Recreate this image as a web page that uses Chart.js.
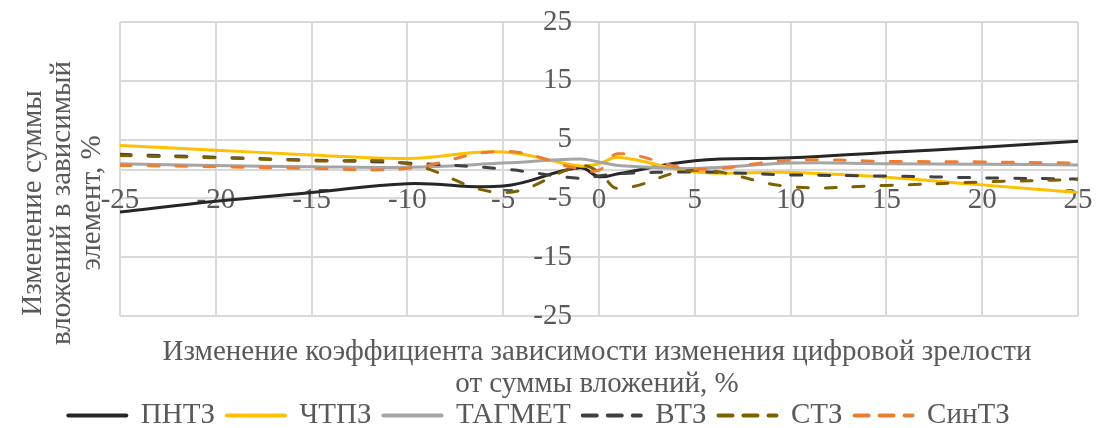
<!DOCTYPE html>
<html lang="ru">
<head>
<meta charset="utf-8">
<title>Изменение суммы вложений в зависимый элемент</title>
<script src="https://cdn.jsdelivr.net/npm/chart.js@4.4.1/dist/chart.umd.min.js"></script>
<style>
  html, body { margin: 0; padding: 0; background: #ffffff; }
  #wrap { width: 1097px; height: 428px; position: relative; }
</style>
</head>
<body>
<div id="wrap"><canvas id="chart" width="1097" height="428"></canvas></div>
<script>
// Change of the dependence coefficient, %
const xValues = [-25, -20, -15, -10, -5, -1, 0, 1, 5, 10, 15, 20, 25];

// Change of the investment amount in the dependent element, % (per plant)
const pntz   = [-7.3, -5.5, -4.0, -2.5, -2.9,  0.2, -1.3, -0.8,  1.4,  1.9,  2.8,  3.7,  4.7];
const chtpz  = [ 4.0,  3.2,  2.4,  1.8,  2.9,  0.5,  0.9,  2.0, -0.5, -0.6, -1.4, -2.7, -4.0];
const tagmet = [ 0.9,  0.6,  0.4,  0.3,  1.0,  1.7,  1.2,  0.6,  0.1,  1.0,  0.9,  0.8,  0.7];
const vtz    = [ 2.5,  2.0,  1.5,  1.0,  0.0, -1.6, -1.2, -0.8, -0.5, -1.0, -1.2, -1.5, -1.7];
const stz    = [ 2.3,  1.9,  1.4,  0.9, -4.0,  0.5, -0.5, -3.3, -0.2, -3.0, -2.8, -2.2, -1.8];
const sintz  = [ 0.6,  0.4,  0.1,  0.1,  3.0,  0.0, -0.2,  2.6,  0.0,  1.5,  1.3,  1.2,  1.0];

const seriesNames = ['ПНТЗ', 'ЧТПЗ', 'ТАГМЕТ', 'ВТЗ', 'СТЗ', 'СинТЗ'];
const seriesValues = [pntz, chtpz, tagmet, vtz, stz, sintz];
const seriesColors = ['#262626', '#FFC000', '#A5A5A5', '#404040', '#7F6000', '#ED7D31'];
const seriesDashed = [false, false, false, true, true, true];

const xTicksMin = -25, xTicksMax = 25, xTickStep = 5;
const yTicksMin = -25, yTicksMax = 25, yTickStep = 10;

const xTitleLines = ['Изменение коэффициента зависимости изменения цифровой зрелости', 'от суммы вложений, %'];
const yTitleLines = ['Изменение суммы', 'вложений в зависимый', 'элемент, %'];

const FONT = '"Liberation Serif", "Times New Roman", serif';
const FONT_SIZE = 29;
const TEXT = '#595959';
const GRID = '#d9d9d9';

const datasets = seriesNames.map((name, i) => ({
  label: name,
  data: xValues.map((x, k) => ({ x: x, y: seriesValues[i][k] })),
  borderColor: seriesColors[i],
  backgroundColor: seriesColors[i],
  borderWidth: 3,
  borderDash: seriesDashed[i] ? [11, 17] : [],
  borderCapStyle: 'round',
  borderJoinStyle: 'round',
  pointRadius: 0,
  pointHoverRadius: 0,
  tension: 0.4,
  fill: false,
  order: seriesNames.length - i
}));

// Axis titles are drawn as plain text beside the plot
const axisTitles = {
  id: 'axisTitles',
  afterDraw(chart) {
    const { ctx, chartArea } = chart;
    ctx.save();
    ctx.font = FONT_SIZE + 'px ' + FONT;
    ctx.fillStyle = TEXT;
    ctx.textAlign = 'center';
    ctx.textBaseline = 'middle';
    const cx = (chartArea.left + chartArea.right) / 2 - 2;
    xTitleLines.forEach((t, i) => ctx.fillText(t, cx, chartArea.bottom + 36 + i * 32));
    ctx.translate(33, 203);
    ctx.rotate(-Math.PI / 2);
    yTitleLines.forEach((t, i) => ctx.fillText(t, 0, i * 29.5));
    ctx.restore();
  }
};

// centred axes take no room from the plot area
function noRoomX(scale) {
  scale.height = 0;
  scale.paddingLeft = 0; scale.paddingRight = 0; scale.paddingTop = 0; scale.paddingBottom = 0;
}
function noRoomY(scale) {
  scale.width = 0;
  scale.paddingLeft = 0; scale.paddingRight = 0; scale.paddingTop = 0; scale.paddingBottom = 0;
}

new Chart(document.getElementById('chart'), {
  type: 'line',
  data: { datasets },
  plugins: [axisTitles],
  options: {
    responsive: false,
    animation: false,
    events: [],
    layout: { padding: { top: 22, right: 19, bottom: 0, left: 0 } },
    plugins: {
      title: { display: false },
      tooltip: { enabled: false },
      legend: {
        position: 'bottom',
        maxHeight: 39,
        labels: {
          usePointStyle: true,
          pointStyle: 'line',
          pointStyleWidth: 58,
          padding: 12,
          color: TEXT,
          font: { family: FONT, size: FONT_SIZE },
          sort: (a, b) => a.datasetIndex - b.datasetIndex,
          generateLabels(chart) {
            const items = Chart.defaults.plugins.legend.labels.generateLabels(chart);
            items.forEach(it => {
              it.lineWidth = 4;
              it.lineCap = 'round';
              it.pointStyle = 'line';
              it.lineDash = seriesDashed[it.datasetIndex] ? [14, 11] : [];
            });
            return items;
          }
        }
      }
    },
    scales: {
      x: {
        type: 'linear',
        position: 'center',
        min: xTicksMin,
        max: xTicksMax,
        afterFit: noRoomX,
        ticks: {
          stepSize: xTickStep,
          padding: 14,
          color: TEXT,
          font: { family: FONT, size: FONT_SIZE },
          maxRotation: 0,
          autoSkip: false
        },
        grid: { color: GRID, lineWidth: 2, drawTicks: false },
        border: { display: true, color: GRID, width: 2 }
      },
      y: {
        type: 'linear',
        position: 'center',
        min: yTicksMin,
        max: yTicksMax,
        afterFit: noRoomY,
        ticks: {
          stepSize: yTickStep,
          padding: 27,
          color: TEXT,
          font: { family: FONT, size: FONT_SIZE },
          autoSkip: false
        },
        grid: { color: GRID, lineWidth: 2, drawTicks: false },
        border: { display: false }
      },
      // room for the rotated title on the left
      ySpace: {
        type: 'linear',
        position: 'left',
        display: true,
        afterFit(scale) { scale.width = 120; },
        ticks: { display: false },
        grid: { display: false, drawTicks: false },
        border: { display: false }
      },
      // room for the two-line title under the plot
      xSpace: {
        type: 'linear',
        position: 'bottom',
        display: true,
        afterFit(scale) { scale.height = 73; },
        ticks: { display: false },
        grid: { display: false, drawTicks: false },
        border: { display: false }
      }
    }
  }
});
</script>
</body>
</html>
